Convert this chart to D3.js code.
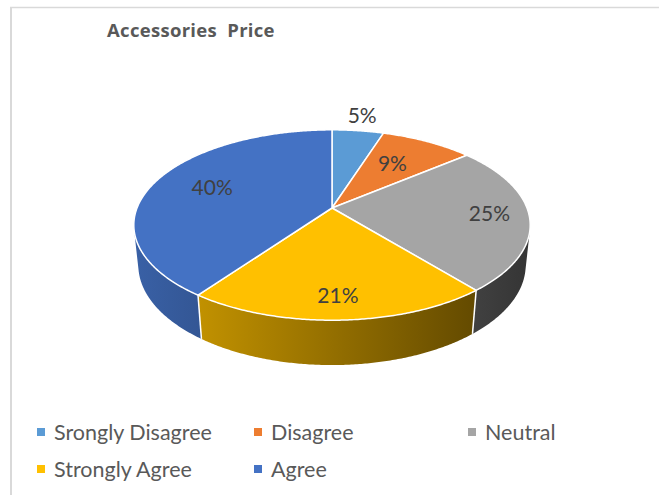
<!DOCTYPE html>
<html>
<head>
<meta charset="utf-8">
<script src="https://cdn.jsdelivr.net/npm/d3@7"></script>
<style>
  html, body { margin: 0; padding: 0; background: #fff; }
  svg { display: block; }
  text { font-family: Lato, "Open Sans", sans-serif; }
</style>
</head>
<body>
<svg id="chart" width="659" height="495"></svg>
<script>
// Survey answers, in percent
const categories = ["Srongly Disagree", "Disagree", "Neutral", "Strongly Agree", "Agree"];
const values = [5, 9, 25, 21, 40];
const colors = ["#5B9BD5", "#ED7D31", "#A5A5A5", "#FFC000", "#4472C4"];
const title = "Accessories  Price";

const W = 659, H = 495;
const svg = d3.select("#chart");

// Chart area border (only top and left edges fall inside the window)
svg.append("line").attr("x1", 10).attr("x2", W).attr("y1", 7.5).attr("y2", 7.5)
  .attr("stroke", "#d9d9d9").attr("stroke-width", 1.5);
svg.append("line").attr("x1", 11).attr("x2", 11).attr("y1", 7).attr("y2", H)
  .attr("stroke", "#d9d9d9").attr("stroke-width", 2);

svg.append("text").attr("x", 107).attr("y", 37)
  .style("font-family", "'Open Sans', sans-serif")
  .attr("font-size", 18.5).attr("letter-spacing", 0.3)
  .attr("font-weight", 700).attr("fill", "#595959")
  .attr("xml:space", "preserve").text(title);

// 3D pie: unit disc in the x/z plane, viewed from above with perspective
const CX = 332, CY = 208, K = 195;
const PHI = 28.2 * Math.PI / 180, DIST = 4.93, DEPTH = 0.235;
const sinP = Math.sin(PHI), cosP = Math.cos(PHI);
function project(x, z, h) {
  const d = z * cosP + h * sinP;
  const s = DIST / (DIST - d);
  return [CX + K * x * s, CY + K * (z * sinP - h * cosP) * s];
}
const rim = (a, r, h) => project(r * Math.sin(a), -r * Math.cos(a), h);

const pie = d3.pie().sort(null).value(d => d.value);
const arcs = pie(categories.map((c, i) => ({ name: c, value: values[i], color: colors[i] })));

const line = d3.line();
const STEP = Math.PI / 360;
function arcPoints(a0, a1, r, h) {
  const n = Math.max(2, Math.ceil((a1 - a0) / STEP));
  return d3.range(n + 1).map(i => rim(a0 + (a1 - a0) * i / n, r, h));
}

// Side wall faces the viewer where cos(a) < -1/(DIST*cos(phi))
const visStart = Math.acos(-1 / (DIST * cosP));
const visEnd = 2 * Math.PI - visStart;

const defs = svg.append("defs");
const xLeft = rim(3 * Math.PI / 2, 1, 0)[0], xRight = rim(Math.PI / 2, 1, 0)[0];
arcs.forEach((d, i) => {
  const c = d3.rgb(d.data.color);
  const shade = f => d3.rgb(c.r * f, c.g * f, c.b * f).toString();
  const g = defs.append("linearGradient").attr("id", "wall" + i)
    .attr("gradientUnits", "userSpaceOnUse")
    .attr("x1", xLeft).attr("x2", xRight).attr("y1", 0).attr("y2", 0);
  g.append("stop").attr("offset", 0).attr("stop-color", shade(0.84));
  g.append("stop").attr("offset", 1).attr("stop-color", shade(0.32));
});

const walls = svg.append("g");
arcs.forEach((d, i) => {
  const lo = Math.max(d.startAngle, visStart), hi = Math.min(d.endAngle, visEnd);
  if (hi <= lo) return;
  const pts = arcPoints(lo, hi, 1, 0).concat(arcPoints(lo, hi, 1, -DEPTH).reverse());
  walls.append("path").attr("d", line(pts) + "Z").attr("fill", `url(#wall${i})`);
});
// Seams between neighbouring walls
arcs.forEach(d => {
  const a = d.startAngle;
  if (a > visStart && a < visEnd) {
    walls.append("path").attr("d", line([rim(a, 1, 0), rim(a, 1, -DEPTH)]))
      .attr("stroke", "#fff").attr("stroke-width", 1.5);
  }
});

// Top faces
const tops = svg.append("g");
arcs.forEach(d => {
  const pts = [project(0, 0, 0)].concat(arcPoints(d.startAngle, d.endAngle, 1, 0));
  tops.append("path").attr("d", line(pts) + "Z")
    .attr("fill", d.data.color).attr("stroke", "#fff").attr("stroke-width", 1.5)
    .attr("stroke-linejoin", "round");
});

// Percentage labels, placed along each slice's middle angle
const labelRadius = [1.2, 0.6, 0.8, 0.83, 0.67];
const labels = svg.append("g");
arcs.forEach((d, i) => {
  const mid = (d.startAngle + d.endAngle) / 2;
  const [x, y] = rim(mid, labelRadius[i], 0);
  labels.append("text").attr("x", x).attr("y", y - 3)
    .attr("text-anchor", "middle").attr("dominant-baseline", "central")
    .attr("font-size", 21).attr("fill", "#404040")
    .text(d.data.value + "%");
});

// Legend: three columns, two rows
const legendCols = [37, 254, 468], legendRows = [440, 477];
const legend = svg.append("g");
categories.forEach((c, i) => {
  const x = legendCols[i % 3], y = legendRows[Math.floor(i / 3)];
  legend.append("rect").attr("x", x).attr("y", y - 12).attr("width", 8).attr("height", 8)
    .attr("fill", colors[i]);
  legend.append("text").attr("x", x + 17).attr("y", y)
    .attr("font-size", 21.5).attr("fill", "#595959").text(c);
});
</script>
</body>
</html>
